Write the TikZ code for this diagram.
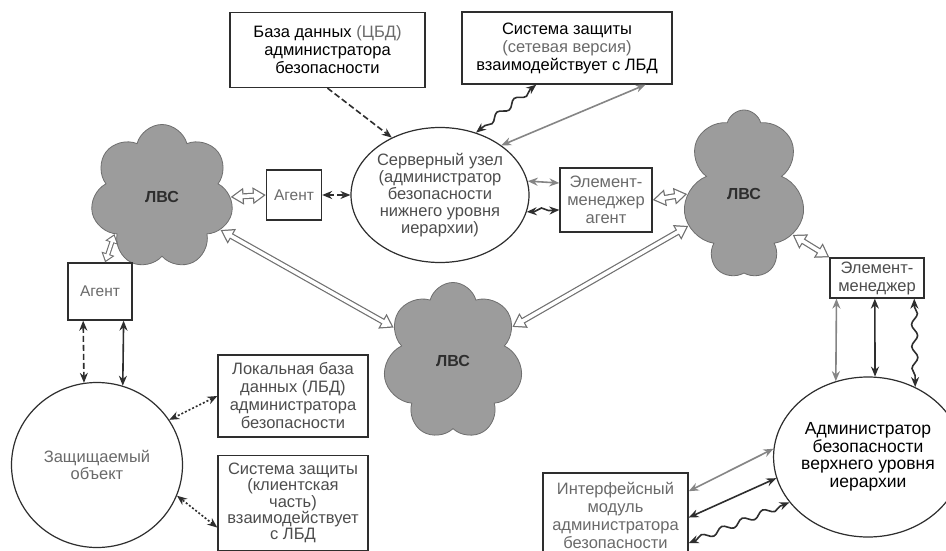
\documentclass[tikz,border=0pt]{standalone}
\usepackage{fontspec}
\setmainfont{Liberation Sans}
\usetikzlibrary{arrows.meta,shapes.geometric,shapes.symbols,decorations.pathmorphing}
\definecolor{inkDark}{HTML}{2e2e2e}
\definecolor{inkGrey}{HTML}{6a6a6a}
\definecolor{lanFill}{HTML}{9c9c9c}
\definecolor{lanLine}{HTML}{6e6e6e}
\definecolor{hollowLine}{HTML}{707070}
\tikzset{
  >={Stealth[length=10pt,width=8pt]},
  box/.style={draw=inkDark, line width=1.3pt, fill=white, align=center,
              inner sep=2pt, font=\fontsize{16.5}{18}\selectfont},
  orb/.style={ellipse, draw=inkDark, line width=1.2pt, fill=white, align=center,
              inner sep=0pt, font=\fontsize{16.5}{17}\selectfont},
  lan/.style={cloud, cloud puffs=7, cloud puff arc=150, cloud ignores aspect,
              draw=lanLine, fill=lanFill, line width=0.8pt, inner sep=0pt,
              font=\fontsize{16}{17}\selectfont\bfseries, text=inkDark},
  link/.style={<->, draw=inkDark, line width=1.6pt},
  glink/.style={<->, draw=black!48, line width=1.6pt},
  dlink/.style={link, dash pattern=on 6pt off 3pt},
  plink/.style={link, dash pattern=on 2pt off 2pt},
  wlink/.style={link, decorate, decoration={snake, amplitude=3pt,
              segment length=22pt, pre length=8pt, post length=8pt}},
  hollow/.style={draw=hollowLine, line width=6pt,
              {Triangle[length=13pt,width=16pt]}-{Triangle[length=13pt,width=16pt]},
              postaction={draw=white, line width=3.6pt, shorten <=2.3pt, shorten >=2.3pt,
              {Triangle[length=9.5pt,width=11.7pt]}-{Triangle[length=9.5pt,width=11.7pt]}}},
  shollow/.style={draw=hollowLine, line width=5pt,
              {Triangle[length=9pt,width=13pt]}-{Triangle[length=9pt,width=13pt]},
              postaction={draw=white, line width=2.8pt, shorten <=2pt, shorten >=2pt,
              {Triangle[length=6pt,width=9pt]}-{Triangle[length=6pt,width=9pt]}}},
}

\begin{document}
\begin{tikzpicture}[x=1pt,y=-1pt]
  \useasboundingbox (0,0) rectangle (946,551);
  \clip (0,0) rectangle (946,551);
  \fill[white] (0,0) rectangle (946,551);
  % upper row
  \node[box,minimum width=195pt,minimum height=75pt] (cbd) at (327.5,50)
       {База данных {\color{inkGrey}(ЦБД)}\\администратора\\безопасности};
  \node[box,minimum width=210pt,minimum height=72pt] (szNet) at (567,48)
       {Система защиты\\{\color{inkGrey}(сетевая версия)}\\взаимодействует с ЛБД};
  \node[orb,minimum width=154pt,minimum height=135pt,text=inkDark!85] (srv) at (440,195)
       {Серверный узел\\(администратор\\безопасности\\нижнего уровня\\иерархии)};
  % networks
  \node[lan,minimum width=143pt,minimum height=145pt] (lanL) at (162,197) {ЛВС};
  \node[lan,minimum width=122pt,minimum height=168pt] (lanR) at (744,194) {ЛВС};
  \node[lan,minimum width=140pt,minimum height=157pt] (lanM) at (453,361) {ЛВС};
  % agents and managers
  \node[box,text=inkGrey,font=\fontsize{15.5}{17}\selectfont,
        minimum width=55pt,minimum height=50pt] (agTop) at (294,195) {Агент};
  \node[box,text=inkGrey,minimum width=92pt,minimum height=64pt] (emAg) at (606,200)
       {Элемент-\\менеджер\\агент};
  \node[box,text=inkGrey,font=\fontsize{15.5}{17}\selectfont,
        minimum width=64pt,minimum height=57pt] (agLeft) at (100,291.5) {Агент};
  \node[box,text=inkDark!85,inner sep=1pt,minimum width=94pt,minimum height=40pt] (emR) at (877,278)
       {Элемент-\\менеджер};
  % bottom row
  \node[orb,minimum width=171pt,minimum height=165pt,text=inkGrey] (obj) at (97,465)
       {Защищаемый\\объект};
  \node[box,text=inkDark!85,minimum width=150pt,minimum height=82pt] (lbd) at (293,396)
       {Локальная база\\данных (ЛБД)\\администратора\\безопасности};
  \node[box,text=inkDark!85,font=\fontsize{16.5}{16.3}\selectfont,
        minimum width=150pt,minimum height=95pt] (szCl) at (293,503)
       {Система защиты\\(клиентская\\часть)\\взаимодействует\\с ЛБД};
  \node[orb,font=\fontsize{17.5}{17.5}\selectfont,minimum width=160pt,minimum height=160pt,
        text=black] (adm) at (868,457)
       {Администратор\\безопасности\\верхнего уровня\\иерархии};
  \node[box,text=inkGrey,minimum width=145pt,minimum height=84pt] (ifm) at (615.5,515)
       {Интерфейсный\\модуль\\администратора\\безопасности};
  % server links
  \draw[dlink,->] (cbd.south) -- (srv.130);
  \draw[wlink] (szNet.230) -- (srv.60);
  \draw[glink] (szNet.-25) -- (srv.39);
  \draw[dlink] (agTop.east) -- (srv.west);
  \draw[glink] (srv.9) -- (emAg.160);
  \draw[wlink] (srv.-11) -- (emAg.192);
  % network links
  \draw[hollow] (lanL.east) -- (agTop.west);
  \draw[hollow] (emAg.east) -- (lanR.west);
  \draw[hollow] (lanR.-40) -- (emR.north west);
  \draw[hollow] (lanL) -- (lanM);
  \draw[hollow] (lanR) -- (lanM);
  \draw[shollow] (agLeft.80) -- (lanL.218);
  % protected object
  \draw[dlink] (agLeft.-120) -- (obj.99);
  \draw[link] (agLeft.-51) -- (obj.72);
  \draw[plink] (lbd.west) -- (obj.32);
  \draw[plink] (szCl.198) -- (obj.-21);
  % upper level administrator
  \draw[glink] (emR.-153) -- (adm.113);
  \draw[link] (emR.-96) -- (adm.85);
  \draw[wlink] (emR.-29) -- (adm.56);
  \draw[glink] (ifm.18) -- (adm.175);
  \draw[link] (ifm.-2) -- (adm.193);
  \draw[wlink] (ifm.-21) -- (adm.210);
\end{tikzpicture}
\end{document}
